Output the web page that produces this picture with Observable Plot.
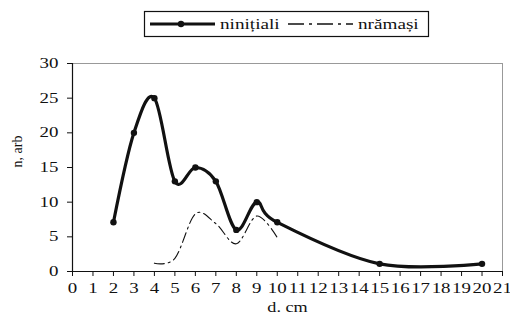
<!DOCTYPE html>
<html>
<head>
<meta charset="utf-8">
<script src="https://cdn.jsdelivr.net/npm/d3@7"></script>
<script src="https://cdn.jsdelivr.net/npm/@observablehq/plot@0.6"></script>
<style>
  html, body { margin: 0; padding: 0; background: #fff; }
  #wrap { position: relative; width: 510px; height: 321px; font-family: 'Liberation Serif'; }
  #legend { position: absolute; left: 0; top: 0; }
  #chart { position: absolute; left: 0; top: 0; }
</style>
</head>
<body>
<div id="wrap">
  <div id="chart"></div>
  <svg id="legend" width="510" height="50" xmlns="http://www.w3.org/2000/svg"></svg>
</div>
<script>
// Data
const seriesNames = ["ninițiali", "nrămași"];
const dInit = [2, 3, 4, 5, 6, 7, 8, 9, 10, 15, 20];
const nInit = [7.1, 20, 25, 13, 15, 13, 6, 10, 7.1, 1.1, 1.1];
const dRem = [4, 5, 6, 7, 8, 9, 10];
const nRem = [1.2, 1.9, 8.3, 6.9, 4.0, 8.0, 4.9];
const xTicks = d3.range(0, 22);
const yTicks = [0, 5, 10, 15, 20, 25, 30];
const xTitle = "d. cm";
const yTitle = "n, arb";

const init = dInit.map((d, i) => ({d, n: nInit[i]}));
const rem = dRem.map((d, i) => ({d, n: nRem[i]}));

const font = "Liberation Serif";
const FS = 14;

const chart = Plot.plot({
  width: 510,
  height: 321,
  marginLeft: 72,
  marginRight: 8,
  marginTop: 63,
  marginBottom: 50,
  style: {fontFamily: font, fontSize: FS + "px", color: "#111", background: "transparent"},
  x: {domain: [0, 21]},
  y: {domain: [0, 30]},
  marks: [
    Plot.ruleY([30], {stroke: "#999", strokeWidth: 1}),
    Plot.ruleX([21], {stroke: "#999", strokeWidth: 1}),
    Plot.axisX({ticks: xTicks, tickFormat: d => String(d), tickSize: 5, tickPadding: 7, label: null, fontSize: FS, fontFamily: font}),
    Plot.axisY({ticks: yTicks, tickFormat: d => String(d), tickSize: 5, tickPadding: 9, label: null, fontSize: FS, fontFamily: font}),
    Plot.ruleX([0], {stroke: "#111", strokeWidth: 1.2}),
    Plot.ruleY([0], {stroke: "#111", strokeWidth: 1.2}),
    Plot.line(rem, {x: "d", y: "n", curve: "cardinal", stroke: "#111", strokeWidth: 1.1, strokeDasharray: "10,4,2,4"}),
    Plot.line(init, {x: "d", y: "n", curve: "cardinal", stroke: "#111", strokeWidth: 3.2}),
    Plot.dot(init, {x: "d", y: "n", r: 3.2, fill: "#111", stroke: "none"}),
    Plot.text([xTitle], {frameAnchor: "bottom", dy: 40, fontSize: FS, fill: "#111", fontFamily: font}),
    Plot.text([yTitle], {frameAnchor: "left", dx: -55, rotate: -90, fontSize: FS, fill: "#111", fontFamily: font})
  ]
});
document.getElementById("chart").appendChild(chart);

// Widen the glyphs horizontally (the reference text is stretched)
chart.querySelectorAll("text").forEach(t => {
  const s = t.textContent.trim();
  if (s === yTitle) return;
  const k = s === xTitle ? 1.3 : 1.35;
  const w = t.getComputedTextLength();
  if (w > 0) {
    t.setAttribute("textLength", (w * k).toFixed(2));
    t.setAttribute("lengthAdjust", "spacingAndGlyphs");
  }
});

// Legend
const lg = d3.select("#legend");
lg.append("rect").attr("x", 144.5).attr("y", 11.5).attr("width", 284).attr("height", 25)
  .attr("fill", "#fff").attr("stroke", "#111").attr("stroke-width", 1.2);
lg.append("line").attr("x1", 150).attr("x2", 215).attr("y1", 24).attr("y2", 24)
  .attr("stroke", "#111").attr("stroke-width", 3);
lg.append("circle").attr("cx", 181).attr("cy", 24).attr("r", 3.2).attr("fill", "#111");
lg.append("text").attr("x", 0).attr("y", 0).text(seriesNames[0])
  .attr("transform", "translate(220,29) scale(1.37,1)")
  .attr("font-family", font).attr("font-size", FS).attr("fill", "#111");
lg.append("line").attr("x1", 288).attr("x2", 353).attr("y1", 24).attr("y2", 24)
  .attr("stroke", "#111").attr("stroke-width", 1.6).attr("stroke-dasharray", "16,5,3,5");
lg.append("text").attr("x", 0).attr("y", 0).text(seriesNames[1])
  .attr("transform", "translate(358,29) scale(1.37,1)")
  .attr("font-family", font).attr("font-size", FS).attr("fill", "#111");
</script>
</body>
</html>
